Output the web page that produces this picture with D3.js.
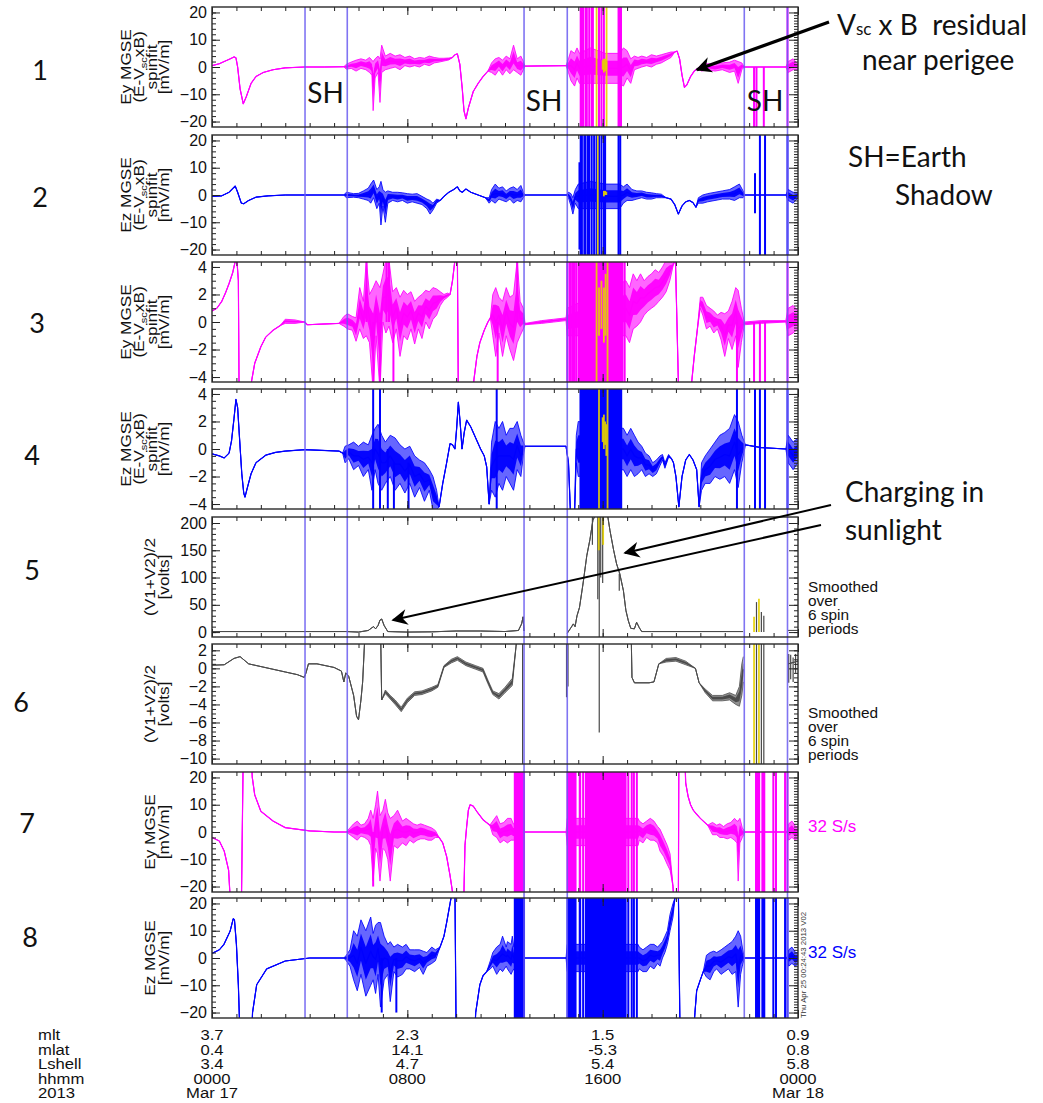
<!DOCTYPE html>
<html>
<head>
<meta charset="utf-8">
<script src="https://cdn.jsdelivr.net/npm/d3@7"></script>
<style>
  body { margin: 0; background: #fff; }
  svg { display: block; }
  text { font-family: "Liberation Sans", Arial, sans-serif; fill: #111; }
  .big { font-family: Lato, "Open Sans", sans-serif; }
</style>
</head>
<body>
<div id="chart"></div>
<script>
"use strict";

// ---- data (hours since 0000 Mar 17 2013) ----
const majorHours = [0, 8, 16, 24];
const shadowEdges = [3.81, 5.54, 12.78, 14.55, 21.8, 23.57];

const orbitRows = ["mlt", "mlat", "Lshell", "hhmm", "2013"];
const orbitValues = [
  ["3.7", "2.3", "1.5", "0.9"],
  ["0.4", "14.1", "-5.3", "0.8"],
  ["3.4", "4.7", "5.4", "5.8"],
  ["0000", "0800", "1600", "0000"],
  ["Mar 17", "", "", "Mar 18"]
];

// band rows are [hour, low, high]; a single value means a plain line, null a gap
const p1Band = [[0,0.5],[0.3,1.2],[0.5,2],[0.75,3],[0.9,3.7],[0.98,3.4],[1.05,0],[1.15,-8],[1.28,-13.5],[1.4,-11],[1.6,-6],[1.8,-3.5],[2.1,-2],[2.5,-1],[3,-0.3],[3.8,0],[4.6,0],[5.4,0.1],
  [5.5,-0.8,1],[5.7,-0.5,1.8],[5.9,-1.5,2.5],[6.1,-0.5,3],[6.3,-1,2.5],[6.45,-2,3.5],[6.55,-3,2.5],[6.6,-16,2],[6.68,-4,3],[6.8,-2,4],[6.88,-13,3],[6.95,-2,8],[7.1,-1,4],[7.3,-0.5,5],[7.5,0,4],[7.7,-1,4.5],[7.9,0.5,3.5],[8.1,0,4],[8.3,0.5,3],[8.5,0,3.5],[8.7,1,3.2],[8.9,0.5,4],[9.1,1.5,3.5],[9.3,1.8,3.2],[9.5,2.2,3.2],[9.7,2.6,3.3],[9.85,3.5],[9.95,4.5],[10.05,4.8],[10.15,1],[10.25,-8],[10.32,-16],[10.4,-19],[10.5,-15],[10.7,-9],[10.9,-6],[11.1,-3.5],[11.3,-1.5],[11.45,-2,1.5],[11.6,-3,3],[11.75,-1,3.5],[11.9,-3,2.5],[12.05,-1,4],[12.2,-2.5,3],[12.35,-1,8],[12.5,-2,3],[12.65,-3,4],[12.75,-1,2],[12.82,0.3],[13.5,0.4],[14.5,0.5],
  [14.6,-2,3],[14.7,-5,6],[14.85,-7,5],[14.95,-4,7],[15.05,-6,5],[15.5,-6,7],[16.1,-6,5],[16.7,-6,5],[16.85,-7,7],[17.0,-4,6],[17.15,-6,3],[17.3,-1,4],[17.45,-0.5,3.5],[17.6,0,4],[17.8,0.5,3.5],[18.0,0,4.5],[18.2,1,4],[18.4,1.5,4.5],[18.6,2.5,5],[18.8,3.5,5.5],[18.95,5.5],[19.05,5.8],[19.15,3],[19.25,-3],[19.35,-7.5],[19.45,-6.5],[19.6,-3.5],[19.75,-1.5],[19.9,-0.5],[20.05,-1.5,1],[20.3,-1,1.2],[20.6,-1.5,1],[20.9,-1,1.5],[21.2,-2,1.8],[21.4,-1.5,2.5],[21.55,-6,2],[21.7,-1,1.5],[21.8,0],[23.5,0],[23.6,-2,2],[23.8,-1,3],[24,-1,1]];
const p1Spikes = [[15.1,-30,30],[15.15,-30,30],[15.2,-30,30],[15.3,-30,30],[15.35,-30,30],[15.45,-30,30],[15.55,-30,30],[15.6,-30,30],[15.85,-30,30],[15.95,-30,30],[16.05,-30,30],[16.65,-30,30],[16.7,-30,30],[16.75,-30,30],[22.2,0,-30],[22.3,0,-30],[22.6,0,-30],[23.57,-30,30]];
const p1Yellow = [[15.75,-30,30],[16.16,-30,30],[16.0,-1,2.5],[16.05,-2,3],[16.1,-1.5,3],[16.15,-1,2]];

const p2Band = [[0,-0.5],[0.4,-0.3],[0.7,1],[0.95,3.3],[1.05,1],[1.2,-3],[1.3,-3.2],[1.5,-2],[1.8,-0.8],[2.3,-0.3],[3,0],[5.4,0],
  [5.5,-1,1],[5.8,-0.8,0.5],[6.0,-1,0.6],[6.2,-1.5,1.5],[6.4,-2,2.5],[6.5,-3,4],[6.62,-1,5.5],[6.75,-5,2],[6.85,-3,3],[6.92,-11,5],[7.0,-4,2],[7.1,-10,1],[7.2,-3,1.5],[7.4,-2,1],[7.6,-2.5,1],[7.8,-2,0.8],[8.0,-3,0.5],[8.2,-2.5,0.3],[8.4,-3,0.5],[8.6,-3.5,-0.5],[8.8,-5,-1.5],[8.93,-7,-2],[9.05,-5.5,-3],[9.2,-3,-1.5],[9.35,-2],[9.5,-0.5],[9.7,1],[9.9,2],[10.05,3],[10.15,1.5],[10.25,1],[10.4,2.2],[10.6,1],[10.9,0],[11.2,-1],[11.35,-3,-1],[11.45,-2,2],[11.6,-3,4],[11.75,-1.5,2.5],[11.9,-2,3],[12.05,-2.5,1.5],[12.2,-1.5,2.5],[12.35,-3,3],[12.5,-2,2],[12.65,-2.5,3.5],[12.75,-1,1],[12.82,0],[14.5,0],
  [14.6,-1,1],[14.7,-4,0.5],[14.78,-7,-1],[14.88,-3,2],[15.0,-5,4],[15.5,-5,5],[16.1,-5,4],[16.7,-5,4],[16.85,-3,3],[17.0,-2,4],[17.2,-2,2],[17.4,-1.5,1.5],[17.6,-1,1.5],[17.8,-1.5,1],[18.0,-1.5,0.8],[18.2,-1,0.5],[18.4,-1,0.3],[18.6,-1],[18.8,-1.5],[18.95,-3.5],[19.1,-7],[19.25,-4],[19.4,-2.5],[19.55,-2],[19.7,-2.8],[19.82,-4.5],[19.92,-3,-1],[20.1,-3,0],[20.3,-2.5,0.5],[20.6,-2,1],[20.9,-1.5,1.5],[21.2,-1.5,2],[21.4,-2,3],[21.6,-1,4],[21.75,-1,1.5],[21.82,0],[23.5,0],[23.6,-2,2],[23.8,-3,1],[24,-1,1]];
const p2Spikes = [[15.05,-20,12],[15.1,-30,30],[15.15,-30,30],[15.25,-30,30],[15.3,-30,30],[15.4,-30,30],[15.45,-30,30],[15.55,-30,30],[15.65,-30,30],[15.75,-30,30],[15.85,-30,30],[15.95,-30,30],[16.05,-30,30],[16.1,-30,30],[16.65,-30,30],[16.72,-30,30],[22.24,-6.7,8],[22.44,-30,30],[22.65,-30,30],[23.57,-30,30]];
const p2Yellow = [[15.8,-30,30],[16.05,-0.5,1.5],[16.1,0,1.5],[16.15,0,1.2]];

const p3Band = [[0,0.8],[0.2,1.0],[0.4,1.5],[0.55,2.1],[0.7,2.8],[0.85,3.6],[0.95,4.4],[1.02,4.5],[1.08,3],[1.12,-8],[1.58,-8],[1.62,-4.3],[1.75,-3],[2.0,-1.8],[2.2,-1.1],[2.5,-0.6],[2.8,-0.25],[3.0,-0.1,0.2],[3.4,-0.1,0.15],[3.8,0],[3.9,-0.2],[4.5,-0.15],[5.2,-0.1],
  [5.4,-0.3,0.4],[5.55,-0.5,0.6],[5.75,-0.6,0.4],[5.9,-1.4,0.3],[6.05,-0.5,2.5],[6.2,-1.2,1.5],[6.32,-1,4.5],[6.45,-1.5,2],[6.6,-5,2.5],[6.72,-1,3],[6.88,-5,2.5],[7.0,0,3.5],[7.12,-0.8,4.5],[7.25,-0.3,4.5],[7.4,-1.5,2.2],[7.55,-0.5,2.5],[7.7,-2.5,1.8],[7.85,-1,2.3],[8.0,-1.3,2.0],[8.15,-0.5,2.2],[8.3,-1.6,1.5],[8.45,-0.5,1.8],[8.6,-1.2,2.0],[8.75,0,2.3],[8.9,-0.5,2.2],[9.05,0.2,2.5],[9.2,0.5,2.4],[9.35,1.2,2.2],[9.5,1.6,2.0],[9.65,1.8,2.1],[9.75,2.0],[9.85,3.0],[9.95,4.5],[10.05,4.6],[10.1,-8],[10.66,-8],[10.72,-4.3],[10.85,-2.5],[10.97,-1.5],[11.15,-0.6],[11.3,0],[11.4,0.3],[11.5,-1,2],[11.62,-2.5,2.5],[11.75,-0.8,1.8],[11.9,-2.5,1.5],[12.05,-1,2.5],[12.2,-2,1.8],[12.35,-2.8,2],[12.5,-1.5,4.5],[12.62,-1,1.5],[12.75,-0.5,1],[12.82,-0.2,-0.1],[13.5,-0.1,0.1],[14.0,0,0.2],[14.5,0.1,0.3],
  [14.55,-1,1],[16.95,-1,3],[17.1,-1.5,2.5],[17.25,-0.5,3.5],[17.4,-0.3,3],[17.55,0,3.5],[17.7,0.5,3],[17.85,0.8,3.3],[18.0,1,3.5],[18.15,1.2,3.8],[18.3,1.5,3.6],[18.45,1.8,4],[18.6,2.2,4.5],[18.75,3,4.5],[18.9,4.2],[18.98,4.6],[19.15,-8],[19.58,-8],[19.65,-4.3],[19.75,-2.5],[19.88,-0.5],[20.0,1.0,1.8],[20.1,0.5,1.8],[20.25,-0.5,1.2],[20.4,-0.3,1],[20.55,-0.8,0.8],[20.7,-0.5,0.5],[20.85,-1.3,0.7],[21.0,-2.5,0.6],[21.15,-1.2,0.8],[21.3,-2,1.5],[21.45,-1,2.5],[21.55,-3.3,2.3],[21.68,-1.5,1],[21.8,-0.2,0],[22.5,-0.1,0.1],[23.5,0,0.1],[23.6,-1,1],[23.8,-0.8,1.2],[24,-0.5,0.8]];
const p3Blocks = [[14.6,14.72],[14.78,14.9],[14.98,16.85]];
const p3Spikes = [[6.33,0,8],[6.61,-8,0],[6.88,-8,0],[7.15,0,8],[7.25,0,8],[7.43,-8,0],[11.7,-8,0],[12.5,0,8],[14.55,-8,8],[14.75,-8,8],[14.93,-8,8],[16.9,-8,8],[21.5,-8,0],[22.2,0,-8],[22.44,0,-8],[22.65,0,-8],[23.57,-8,8]];
const p3Yellow = [[15.75,-8,8],[16.2,-8,8],[15.85,-1,2.5],[15.95,-0.5,3],[16.05,-1.5,2.5],[16.12,-1,3.5]];

const p4Band = [[0,-0.35],[0.3,-0.5],[0.5,-0.65],[0.7,-0.3],[0.8,0.6],[0.9,2.2],[0.98,3.6],[1.05,3.0],[1.12,1.0],[1.22,-1.8],[1.3,-3.2],[1.35,-3.5],[1.45,-2.8],[1.6,-1.8],[1.8,-1.0],[2.2,-0.45],[2.6,-0.25],[3.0,-0.15],[3.8,-0.05],[4.5,-0.1],[5.2,-0.15],[5.35,-0.3],
  [5.45,-1,0.2],[5.6,-0.7,0.3],[5.8,-1.5,0.5],[6.0,-1.2,0.2],[6.2,-2,0.5],[6.4,-1.5,0.3],[6.55,-3,1],[6.68,-1.5,1.5],[6.8,-2.5,1.8],[6.95,-3,1],[7.1,-2.5,0.5],[7.3,-2,1],[7.5,-3,0.8],[7.7,-2.5,0.3],[7.9,-3.2,0],[8.1,-2.5,0.2],[8.3,-3.5,-0.5],[8.5,-2.8,-0.8],[8.7,-3.8,-1],[8.9,-3,-1.5],[9.05,-4.4,-2],[9.2,-4.4,-3],[9.3,-4.2],[9.45,-2.5],[9.6,-1.1],[9.75,0.4],[9.85,0.3],[9.95,0],[10.02,1.5],[10.09,3.4],[10.16,2],[10.24,0],[10.33,1.2],[10.43,2.1],[10.6,1.6],[10.8,0.8],[11.0,0],[11.15,-0.5],[11.25,-1.3],[11.35,-4],[11.45,-3,0.5],[11.6,-3.5,2],[11.75,-2.5,1.5],[11.9,-3,2],[12.05,-2,1],[12.2,-2.5,1.5],[12.35,-3,1.5],[12.5,-1.5,2],[12.65,-2,1],[12.75,-0.5,0.5],[12.82,0.2],[14.5,0.2],[14.6,-1],[14.68,-4.6],[14.85,-4.6],[14.92,-1,1],[15.0,-2,2],[16.85,-1.5,1.5],[17.0,-2,1],[17.15,-1.5,1.5],[17.3,-2,1],[17.45,-1.8,0.5],[17.6,-1.5,0.2],[17.75,-2,-0.3],[17.9,-1.8,-0.5],[18.05,-2,-1],[18.2,-1.8,-0.8],[18.35,-1.2,-0.5],[18.45,-0.8,-0.4],[18.55,-1.4,-1],[18.7,-0.6,-0.4],[18.82,-0.7],[18.9,-1.0],[19.0,-2.0],[19.12,-4.2],[19.25,-2],[19.4,-0.8],[19.55,-0.4],[19.7,-0.8],[19.85,-1.5],[19.95,-4.2],[20.05,-3,-1],[20.2,-2.5,-0.5],[20.4,-2.5,0],[20.6,-2,0.5],[20.8,-2.2,1],[21.0,-2,1.2],[21.2,-2.5,1.5],[21.4,-1.5,2.5],[21.55,-2.8,2],[21.7,-1,1],[21.85,0.3],[22.5,0.1],[23.5,0.0],[23.6,-1,1],[23.8,-1.5,0.5],[24,-1,0.8]];
const p4Blocks = [[15.05,16.8]];
const p4Spikes = [[6.6,-8,8],[6.88,-8,8],[7.2,-8,0],[7.45,-8,-1],[8.05,-8,-1],[11.66,-8,8],[21.5,-8,8],[22.24,-8,8],[22.44,-8,8],[22.65,-8,8],[23.57,-8,8]];
const p4Yellow = [[15.85,-8,8],[16.2,-8,8],[16.0,0.5,2.3],[16.05,0,2.5],[16.1,0.3,2],[16.15,-0.5,1.8]];

const p5Band = [[0,1],[3,1],[5.5,1],[6.0,0],[6.4,3],[6.55,8],[6.62,10],[6.7,6],[6.8,12],[6.88,22],[6.95,24],[7.05,12],[7.2,1],[8,0],[9,0.5],[10,2],[11,2],[12,1],[12.55,3],[12.68,15],[12.74,28],[12.78,2],[12.8,null],[14.54,null],
  [14.55,-2],[14.7,8],[14.8,15],[14.87,10],[14.95,30],[15.05,45],[15.2,90],[15.35,140],[15.48,170],[15.6,205],[15.7,215],[16.2,215],[16.3,186],[16.45,150],[16.57,125],[16.7,107],[16.85,76],[16.95,40],[17.05,21],[17.15,7],[17.3,6],[17.39,18],[17.5,8],[17.6,1],[18,1],[21.75,1],[21.8,null],[23.58,null],[23.6,3],[24,3]];
const p5Spikes = [[15.58,160,215],[15.8,60,215],[15.86,-10,215],[15.92,100,215],[16.0,90,215],[16.68,76,107],[22.3,0,55],[22.5,0,37],[22.6,0,30]];
const p5Yellow = [[15.84,150,215],[16.02,160,215],[22.2,0,28],[22.4,0,61]];

const p6Band = [[0,0.35],[0.5,0.4],[0.9,1.1],[1.15,1.3],[1.5,0.5],[2.0,0.2],[3.0,-0.4],[3.5,-0.7],[3.78,-1.0],[3.85,-0.5],[3.95,0.5],[4.3,0.5],[5.0,0.1],[5.3,-0.3],[5.4,-1.5],[5.48,-0.5],[5.6,-0.9],[5.8,-3],[5.92,-5.3],[6.0,-5.7],[6.1,-3.5],[6.17,-1.5],[6.25,3],[6.3,5],[6.9,5],[6.95,-3.5],
  [7.1,-2.8,-2.4],[7.3,-3.4,-3.0],[7.5,-4.0,-3.5],[7.75,-4.8,-4.3],[8.0,-3.8,-3.3],[8.3,-3.0,-2.6],[8.6,-2.9,-2.5],[9.0,-2.5,-2.1],[9.25,-2.1,-1.8],[9.5,0.1,0.3],[9.8,0.6,1.0],[10.05,0.9,1.3],[10.4,0.3,0.7],[10.8,-0.1,0.3],[11.1,-0.4,0.0],[11.3,-1.7,-1.3],[11.5,-2.9,-2.5],[11.75,-3.4,-2.8],[12.0,-2.7,-2.1],[12.3,-1.9,-1.1],[12.45,2.4],[12.55,5],[12.6,null],[17.15,null],
  [17.16,5],[17.2,-1.0],[17.3,-1.6],[17.9,-1.6],[18.1,-1.5],[18.3,0.5],[18.6,0.7,1.1],[19.0,0.8,1.2],[19.4,0.4,0.8],[19.8,0.0],[19.95,-1.6],[20.2,-2.7,-2.3],[20.5,-3.6,-3.0],[20.9,-3.6,-3.0],[21.2,-3.5,-2.7],[21.45,-4.0,-3.0],[21.6,-4.2,-2.0],[21.7,-3.0,0.5],[21.76,-1.5,1.3],[21.8,null],[23.58,null],[23.6,0.5],[24,0.8]];
const p6Spikes = [[12.72,-11,3],[14.52,-3.2,3],[14.58,-2,3],[15.86,-7.1,3],[22.3,-11,3],[22.5,-11,3],[22.6,-11,3],[23.62,-1.6,1.6],[23.7,-1.2,1.5],[23.8,-1.5,1.2],[23.9,-0.5,1.6]];
const p6Yellow = [[22.2,-11,3],[22.4,-11,3]];

const p7Band = [[0,-2],[0.3,-3.3],[0.5,-7],[0.68,-14],[0.78,-30],[1.2,-30],[1.28,30],[1.6,30],[1.65,20],[1.75,13.6],[2.0,7.6],[2.5,4],[3.0,1.6],[4.0,0.4],[5.0,0],[5.5,0],
  [5.65,-1,1.5],[5.8,-2,3],[5.95,-3,4],[6.1,-1.5,2.5],[6.25,-2,3],[6.4,-3,5],[6.5,-5,8],[6.6,-18,5],[6.7,-6,10],[6.78,-8,15],[6.88,-18,6],[7.0,-6,8],[7.1,-7,12],[7.2,-10,7],[7.3,-18,5],[7.45,-5,6],[7.6,-6,8],[7.8,-4,4],[7.95,-5,5],[8.1,-3,4],[8.25,-4,3],[8.4,-3,2.5],[8.55,-2.5,3],[8.7,-2.5,2.5],[8.85,-3,2],[9.0,-3,1.5],[9.15,-2,0.5],[9.3,-2],[9.45,-4],[9.61,-9],[9.75,-16],[9.85,-22],[9.9,-30],[10.3,-30],[10.36,-5],[10.43,2],[10.5,8],[10.57,10],[10.7,9.5],[10.84,7.6],[11.1,4.5],[11.38,2.5],[11.5,-1,4],[11.66,-2,6],[11.8,-4,3],[11.95,-3,3.5],[12.1,-4,5],[12.25,-3,5],[12.34,-3,3],[12.4,-3,3],[12.82,0],[14.5,0],[14.55,-5,5],[17.45,-5,5],
  [17.5,-3,4],[17.65,-4,3],[17.8,-2,4],[17.95,-3,5],[18.1,-3,4],[18.25,-4,2],[18.35,-7,1],[18.5,-9,-2],[18.65,-12,-5],[18.76,-14,-8],[18.88,-20],[18.95,-30],[19.1,-30],[19.12,30],[19.36,30],[19.4,18],[19.5,13],[19.6,10],[19.71,8],[19.85,6.5],[20.0,5],[20.12,4],[20.3,2.5],[20.5,-1,3.5],[20.67,-1,2.5],[20.8,-2,3],[20.95,-2,2],[21.1,-2.5,3],[21.25,-2,3.5],[21.4,-3,5],[21.5,-4,4],[21.55,-18,4],[21.62,-4,5],[21.72,-2,1.5],[21.83,0],[23.55,0],[23.62,-3,3],[23.75,-2,4],[23.9,-3,2],[24,-2,2]];
const p7Blocks = [[12.36,12.82],[14.52,14.93],[15.02,15.12],[15.27,16.98],[22.24,22.45],[22.5,22.66]];
const p7Spikes = [[6.6,-20,0],[15.2,-30,30],[17.05,-30,30],[17.19,-30,30],[17.28,-30,30],[17.4,-30,30],[22.99,-30,30],[23.1,-30,30],[23.47,-30,30],[23.57,-30,30]];

const p8Band = [[0,1.7],[0.3,3],[0.49,5],[0.74,9.8],[0.87,14.4],[0.92,14],[1.0,5],[1.08,-10],[1.15,-30],[1.62,-30],[1.66,-20],[1.83,-9.8],[2.24,-4],[3.0,-1.1],[4.0,0],[5.4,0],
  [5.5,-1,1],[5.65,-3,3],[5.8,-8,10],[5.95,-12,8],[6.1,-6,14],[6.3,-14,10],[6.5,-10,15],[6.6,-8,9],[6.7,-13,12],[6.8,-6,13],[6.9,-18,13],[7.05,-8,8],[7.2,-6,5],[7.3,-16,6],[7.45,-5,4],[7.6,-7,5],[7.8,-6,4],[7.95,-4,5],[8.1,-4,3],[8.3,-5,3],[8.5,-3.5,3],[8.65,-6,2.5],[8.8,-3,2],[9.0,-2,4],[9.15,-1,3],[9.34,4],[9.5,8],[9.61,13],[9.75,20],[9.85,25],[9.95,25],[10.0,-30],[10.75,-30],[10.8,-20],[10.97,-9.8],[11.1,-6.5],[11.25,-5],[11.4,-4,-1],[11.5,-3,2],[11.66,-6,4],[11.8,-4,5],[11.9,-5,8],[12.05,-3,4],[12.1,-4,6],[12.25,-6,5],[12.3,-5,8],[12.36,-4,4],[12.82,0],[14.5,0],[14.55,-5,5],[17.45,-5,5],
  [17.5,-4,4],[17.65,-5,3],[17.8,-5,4],[17.95,-3,5],[18.1,-4,5],[18.25,-2,4],[18.35,-3,5],[18.45,0,6],[18.55,2,8],[18.65,5,10],[18.76,10,16],[18.88,15,20],[18.96,22],[19.1,25],[19.17,-30],[19.7,-30],[19.78,-20],[19.85,-12],[20.0,-8],[20.12,-5],[20.25,-7,1],[20.4,-8,2],[20.55,-5,2.5],[20.67,-4,2],[20.85,-6,3],[21.0,-5,4],[21.15,-4,5],[21.3,-6,6],[21.45,-5,8],[21.55,-18,10],[21.65,-6,8],[21.72,-3,4],[21.8,0],[23.55,0],[23.62,-3,3],[23.75,-2,4],[23.9,-3,2],[24,-2,2]];
const p8Blocks = [[12.36,12.82],[14.52,14.93],[15.02,15.12],[15.27,16.98],[22.24,22.45],[22.5,22.66]];
const p8Spikes = [[6.95,-20,0],[7.55,-20,0],[15.2,-30,30],[17.05,-30,30],[17.19,-30,30],[17.28,-30,30],[17.4,-30,30],[22.99,-30,30],[23.1,-30,30],[23.47,-30,30],[23.57,-30,30]];

const tick20 = [-20, -10, 0, 10, 20];
const tick4 = [-4, -2, 0, 2, 4];
const tick200 = [0, 50, 100, 150, 200];
const tick10 = [-10, -8, -6, -4, -2, 0, 2];

// ---- layout ----
const W = 1043, H = 1103;
const X0 = 212, X1 = 798;
const panelTops = [7, 135, 262, 389, 517, 644, 772, 898];
const panelH = 120;
const magenta = "#ff00ff", blue = "#0000ff", gray = "#4a4a4a", yellow = "#e6d200";

const panels = [
  { band: p1Band, blocks: [], spikes: p1Spikes, yellow: p1Yellow, domain: [-22, 22], major: tick20, minorL: 2, minorR: 1, color: magenta,
    title: ["Ey MGSE", "sub", "spinfit", "[mV/m]"], num: "1", numPos: [40, 80] },
  { band: p2Band, blocks: [], spikes: p2Spikes, yellow: p2Yellow, domain: [-22, 22], major: tick20, minorL: 2, minorR: 1, color: blue,
    title: ["Ez MGSE", "sub", "spinfit", "[mV/m]"], num: "2", numPos: [40, 207] },
  { band: p3Band, blocks: p3Blocks, spikes: p3Spikes, yellow: p3Yellow, domain: [-4.36, 4.36], major: tick4, minorL: 0.5, minorR: 0.2, color: magenta,
    title: ["Ey MGSE", "sub", "spinfit", "[mV/m]"], num: "3", numPos: [37, 333] },
  { band: p4Band, blocks: p4Blocks, spikes: p4Spikes, yellow: p4Yellow, domain: [-4.36, 4.36], major: tick4, minorL: 0.5, minorR: 0.2, color: blue,
    title: ["Ez MGSE", "sub", "spinfit", "[mV/m]"], num: "4", numPos: [32, 465] },
  { band: p5Band, blocks: [], spikes: p5Spikes, yellow: p5Yellow, domain: [-9, 211], major: tick200, minorL: 10, minorR: 10, color: gray, thin: true,
    title: ["(V1+V2)/2", "[volts]"], num: "5", numPos: [32, 580] },
  { band: p6Band, blocks: [], spikes: p6Spikes, yellow: p6Yellow, domain: [-10.6, 2.7], major: tick10, minorL: 0.5, minorR: 0.5, color: gray, thin: true,
    title: ["(V1+V2)/2", "[volts]"], num: "6", numPos: [21, 712] },
  { band: p7Band, blocks: p7Blocks, spikes: p7Spikes, yellow: [], domain: [-22, 22], major: tick20, minorL: 2, minorR: 1, color: magenta,
    title: ["Ey MGSE", "[mV/m]"], num: "7", numPos: [27, 833] },
  { band: p8Band, blocks: p8Blocks, spikes: p8Spikes, yellow: [], domain: [-22, 22], major: tick20, minorL: 2, minorR: 1, color: blue,
    title: ["Ez MGSE", "[mV/m]"], num: "8", numPos: [30, 947] }
];

const svg = d3.select("#chart").append("svg")
  .attr("width", W)
  .attr("height", H)
  .attr("viewBox", [0, 0, W, H].join(" "));

const x = d3.scaleLinear().domain([0, 24]).range([X0, X1]);
const defs = svg.append("defs");
const scales = [];

const lo = d => d[1];
const hi = d => d.length > 2 ? d[2] : d[1];
const mid = d => (lo(d) + hi(d)) / 2;
const defined = d => d[1] !== null;

panels.forEach(function(p, i) {
  let top = panelTops[i];
  let bot = top + panelH;
  let y = d3.scaleLinear().domain(p.domain).range([bot, top]);
  scales.push(y);

  defs.append("clipPath").attr("id", "clip" + i)
    .append("rect")
    .attr("x", X0).attr("y", top)
    .attr("width", X1 - X0).attr("height", panelH);

  let g = svg.append("g").attr("clip-path", "url(#clip" + i + ")");

  // noise envelope: lighter outer band, denser core around the middle
  g.append("path")
    .datum(p.band)
    .attr("d", d3.area().defined(defined).x(d => x(d[0])).y0(d => y(lo(d))).y1(d => y(hi(d))))
    .attr("fill", p.color)
    .attr("fill-opacity", 0.6);
  g.append("path")
    .datum(p.band)
    .attr("d", d3.area().defined(defined).x(d => x(d[0]))
      .y0(d => y(mid(d) - (hi(d) - lo(d)) * 0.25))
      .y1(d => y(mid(d) + (hi(d) - lo(d)) * 0.25)))
    .attr("fill", p.color)
    .attr("fill-opacity", 0.95);

  [lo, hi].forEach(function(acc) {
    g.append("path")
      .datum(p.band)
      .attr("d", d3.line().defined(defined).x(d => x(d[0])).y(d => y(acc(d))))
      .attr("fill", "none")
      .attr("stroke", p.color)
      .attr("stroke-opacity", 0.85)
      .attr("stroke-width", p.thin ? 0.9 : 1)
      .attr("stroke-linejoin", "round");
  });
  g.append("path")
    .datum(p.band)
    .attr("d", d3.line().defined(defined).x(d => x(d[0])).y(d => y(mid(d))))
    .attr("fill", "none")
    .attr("stroke", p.color)
    .attr("stroke-width", p.thin ? 0.9 : 1.2)
    .attr("stroke-linejoin", "round");

  // saturated stretches
  g.selectAll(".block")
    .data(p.blocks)
    .enter().append("rect")
    .attr("class", "block")
    .attr("x", d => x(d[0]))
    .attr("width", d => x(d[1]) - x(d[0]))
    .attr("y", top)
    .attr("height", panelH)
    .attr("fill", p.color);

  g.selectAll(".spike")
    .data(p.spikes)
    .enter().append("line")
    .attr("class", "spike")
    .attr("x1", d => x(d[0])).attr("x2", d => x(d[0]))
    .attr("y1", d => y(d[1])).attr("y2", d => y(d[2]))
    .attr("stroke", p.color)
    .attr("stroke-width", p.thin ? 1.2 : 2);

  g.selectAll(".yellow")
    .data(p.yellow)
    .enter().append("line")
    .attr("class", "yellow")
    .attr("x1", d => x(d[0])).attr("x2", d => x(d[0]))
    .attr("y1", d => y(d[1])).attr("y2", d => y(d[2]))
    .attr("stroke", yellow)
    .attr("stroke-opacity", 0.9)
    .attr("stroke-width", 1.8);
});

// earth shadow boundaries
svg.append("g").selectAll("line")
  .data(shadowEdges)
  .enter().append("line")
  .attr("x1", d => x(d)).attr("x2", d => x(d))
  .attr("y1", panelTops[0]).attr("y2", panelTops[7] + panelH)
  .attr("stroke", "#6a5cf0")
  .attr("stroke-opacity", 0.85)
  .attr("stroke-width", 1.6);

// frames and axes
const hourTicks = d3.range(0, 25);
panels.forEach(function(p, i) {
  let top = panelTops[i];
  let bot = top + panelH;
  let y = scales[i];
  let ax = svg.append("g").attr("class", "axes");

  function clean(sel) {
    sel.select(".domain").remove();
    sel.selectAll(".tick line").attr("stroke", "#222").attr("stroke-width", 1);
  }

  let lMinor = d3.range(p.major[0], p.major[p.major.length - 1] + 1e-6, p.minorL);
  let rMinor = d3.range(p.major[0], p.major[p.major.length - 1] + 1e-6, p.minorR);

  ax.append("g").attr("transform", "translate(" + X0 + ",0)")
    .call(d3.axisLeft(y).tickValues(lMinor).tickSize(-4).tickFormat(""))
    .call(clean);
  ax.append("g").attr("transform", "translate(" + X0 + ",0)")
    .call(d3.axisLeft(y).tickValues(p.major).tickSize(-8).tickPadding(5).tickFormat(d3.format("d")))
    .call(clean)
    .call(s => s.selectAll("text").attr("font-size", 16).attr("font-family", "Liberation Sans, Arial, sans-serif").attr("fill", "#111"));

  ax.append("g").attr("transform", "translate(" + X1 + ",0)")
    .call(d3.axisRight(y).tickValues(rMinor).tickSize(-4).tickFormat(""))
    .call(clean);
  ax.append("g").attr("transform", "translate(" + X1 + ",0)")
    .call(d3.axisRight(y).tickValues(p.major).tickSize(-9).tickFormat(""))
    .call(clean);

  ax.append("g").attr("transform", "translate(0," + top + ")")
    .call(d3.axisTop(x).tickValues(hourTicks).tickSize(-4).tickFormat(""))
    .call(clean);
  ax.append("g").attr("transform", "translate(0," + top + ")")
    .call(d3.axisTop(x).tickValues(majorHours).tickSize(-8).tickFormat(""))
    .call(clean);
  ax.append("g").attr("transform", "translate(0," + bot + ")")
    .call(d3.axisBottom(x).tickValues(hourTicks).tickSize(-4).tickFormat(""))
    .call(clean);
  ax.append("g").attr("transform", "translate(0," + bot + ")")
    .call(d3.axisBottom(x).tickValues(majorHours).tickSize(-8).tickFormat(""))
    .call(clean);

  ax.append("rect")
    .attr("x", X0).attr("y", top)
    .attr("width", X1 - X0).attr("height", panelH)
    .attr("fill", "none")
    .attr("stroke", "#2a2a2a")
    .attr("stroke-width", 1.4);

  // y titles, rotated; short wide glyphs like the IDL font
  let cy = top + panelH / 2;
  let baseX = p.title.length === 4 ? [131, 144, 157, 169] : [155, 169];
  p.title.forEach(function(line, k) {
    let t = svg.append("text")
      .attr("transform", "translate(" + baseX[k] + "," + cy + ") rotate(-90) scale(1.15,1)")
      .attr("text-anchor", "middle")
      .attr("font-size", 15);
    if (line === "sub") {
      t.append("tspan").text("(E-V");
      t.append("tspan").attr("font-size", 9.5).attr("dy", 3).text("sc");
      t.append("tspan").attr("dy", -3).text("xB)");
    } else {
      t.text(line);
    }
  });

  svg.append("text")
    .attr("class", "big")
    .attr("x", p.numPos[0]).attr("y", p.numPos[1])
    .attr("text-anchor", "middle")
    .attr("font-size", 27)
    .text(p.num);
});

// orbit rows under the last panel
const rowY = [1040, 1054.5, 1069, 1083.5, 1098];
orbitRows.forEach(function(name, r) {
  svg.append("text")
    .attr("transform", "translate(38," + rowY[r] + ") scale(1.15,1)")
    .attr("font-size", 14.5)
    .text(name);
  svg.selectAll(null)
    .data(majorHours)
    .enter().append("text")
    .attr("transform", d => "translate(" + x(d) + "," + rowY[r] + ") scale(1.15,1)")
    .attr("text-anchor", "middle")
    .attr("font-size", 14.5)
    .text((d, k) => orbitValues[r][k]);
});

// right-hand notes
const noteLines = ["Smoothed", "over", "6 spin", "periods"];
[592, 718].forEach(function(y0) {
  noteLines.forEach(function(s, k) {
    svg.append("text")
      .attr("transform", "translate(808," + (y0 + k * 14) + ") scale(1.1,1)")
      .attr("font-size", 14)
      .text(s);
  });
});
svg.append("text").attr("x", 808).attr("y", 832).attr("font-size", 17).style("fill", magenta).text("32 S/s");
svg.append("text").attr("x", 808).attr("y", 958).attr("font-size", 17).style("fill", blue).text("32 S/s");
svg.append("text")
  .attr("transform", "translate(806," + (panelTops[7] + panelH) + ") rotate(-90)")
  .attr("font-size", 7.8)
  .style("fill", "#333")
  .text("Thu Apr 25 00:24:43 2013 V02");

// SH labels
[[3.9, 103], [12.85, 111], [21.9, 111]].forEach(function(d) {
  svg.append("text").attr("class", "big")
    .attr("x", x(d[0])).attr("y", d[1])
    .attr("font-size", 28).text("SH");
});

// callouts
defs.append("marker")
  .attr("id", "head")
  .attr("viewBox", "0 0 10 10")
  .attr("refX", 9).attr("refY", 5)
  .attr("markerUnits", "userSpaceOnUse")
  .attr("markerWidth", 22).attr("markerHeight", 16)
  .attr("orient", "auto")
  .append("path")
  .attr("d", "M0,0 L10,5 L0,10 L3,5 Z")
  .attr("fill", "#000");

function arrow(x1, y1, x2, y2, w) {
  svg.append("line")
    .attr("x1", x1).attr("y1", y1).attr("x2", x2).attr("y2", y2)
    .attr("stroke", "#000").attr("stroke-width", w)
    .attr("marker-end", "url(#head)");
}

arrow(829, 22, x(19.86), scales[0](-1), 3.2);
arrow(831, 505, x(16.91), scales[4](145), 2);
arrow(821, 525, x(7.41), scales[4](22), 2);

let vsc = svg.append("text").attr("class", "big").attr("x", 837).attr("y", 35).attr("font-size", 28).style("white-space", "pre");
vsc.append("tspan").text("V");
vsc.append("tspan").attr("font-size", 17).text("sc");
vsc.append("tspan").text(" x B  residual");
svg.append("text").attr("class", "big").attr("x", 862).attr("y", 70).attr("font-size", 28).text("near perigee");
svg.append("text").attr("class", "big").attr("x", 848).attr("y", 167).attr("font-size", 28).text("SH=Earth");
svg.append("text").attr("class", "big").attr("x", 895).attr("y", 205).attr("font-size", 28).text("Shadow");
svg.append("text").attr("class", "big").attr("x", 845).attr("y", 502).attr("font-size", 28).text("Charging in");
svg.append("text").attr("class", "big").attr("x", 845).attr("y", 540).attr("font-size", 28).text("sunlight");
</script>
</body>
</html>
